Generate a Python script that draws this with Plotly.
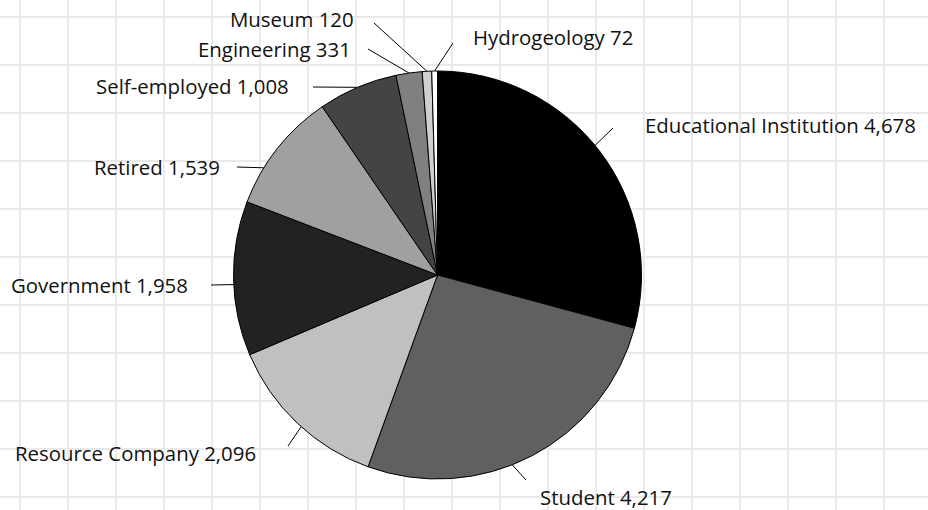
import math
import plotly.graph_objects as go

# ---- data ----
categories = ["Educational Institution", "Student", "Resource Company", "Government",
              "Retired", "Self-employed", "Engineering", "Museum", "Hydrogeology"]
counts = [4678, 4217, 2096, 1958, 1539, 1008, 331, 120, 72]

# ---- styles ----
slice_colors = ["#000000", "#606060", "#c0c0c0", "#222222", "#a0a0a0",
                "#444444", "#808080", "#cfcfcf", "#ffffff"]

W, H = 928, 510
CX, CY, R = 437.5, 275.0, 204.0   # pie centre / radius in pixels

# label layout: angle tweak (deg), leader outer end (px), text anchor (px), side
label_layout = {
    "Educational Institution": (-2.0, (613, 128), (643, 125), "left"),
    "Student":                 (6.0, (526, 480), (538, 497), "left"),
    "Resource Company":        (-1.5, (288, 446), (258, 453), "right"),
    "Government":              (-1.7, (211, 285), (190, 285), "right"),
    "Retired":                 (-6.6, (237, 167), (222, 167), "right"),
    "Self-employed":           (0.0, (313, 87), (291, 86), "right"),
    "Engineering":             (0.0, (368, 49), (353, 49), "right"),
    "Museum":                  (0.0, (374, 23), (356, 19), "right"),
    "Hydrogeology":            (0.0, (453, 43), (471, 37), "left"),
}

FONT = dict(family="'Open Sans', 'Noto Sans', sans-serif", size=20.4, color="#111111")

fig = go.Figure()

# dummy trace so the cartesian grid is drawn
fig.add_trace(go.Scatter(x=[None], y=[None], showlegend=False, hoverinfo="skip"))

fig.add_trace(go.Pie(
    values=counts, labels=categories, sort=False, direction="clockwise",
    rotation=0, textinfo="none", showlegend=False,
    marker=dict(colors=slice_colors, line=dict(color="#000000", width=1)),
    domain=dict(x=[(CX - R) / W, (CX + R) / W],
                y=[(H - CY - R) / H, (H - CY + R) / H]),
))

total = sum(counts)
cum = 0
for cat, val in zip(categories, counts):
    adj, outer, txt, side = label_layout[cat]
    ang = math.radians((cum + val / 2) / total * 360 + adj)
    cum += val
    ix = CX + R * math.sin(ang)
    iy = CY - R * math.cos(ang)
    fig.add_trace(go.Scatter(x=[ix, outer[0]], y=[iy, outer[1]], mode="lines",
                             line=dict(color="#000000", width=1),
                             showlegend=False, hoverinfo="skip"))
    fig.add_annotation(x=txt[0], y=txt[1], xref="x", yref="y",
                       text=f"{cat} {val:,}", showarrow=False,
                       xanchor=side, yanchor="middle", font=FONT)

fig.update_xaxes(range=[0, W], tick0=20, dtick=48, showgrid=True,
                 gridcolor="#e9e9e9", gridwidth=2, zeroline=False,
                 showticklabels=False, showline=False, fixedrange=True)
fig.update_yaxes(range=[H, 0], tick0=16.5, dtick=48, showgrid=True,
                 gridcolor="#e9e9e9", gridwidth=2, zeroline=False,
                 showticklabels=False, showline=False, fixedrange=True)

fig.update_layout(width=W, height=H, margin=dict(l=0, r=0, t=0, b=0),
                  paper_bgcolor="#ffffff", plot_bgcolor="#ffffff",
                  hovermode=False)

fig.write_html("out.html", config={"displayModeBar": False},
               post_script="document.body.style.margin='0';document.body.style.padding='0';")
